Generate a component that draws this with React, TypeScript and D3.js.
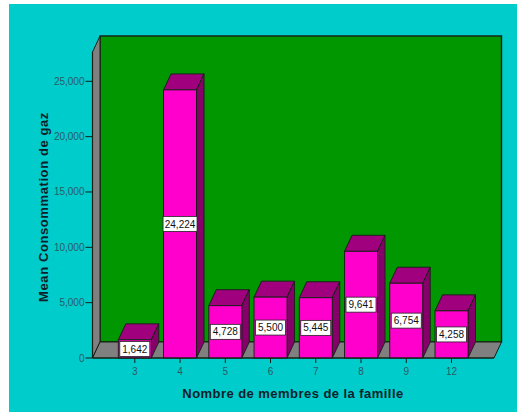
import React from "react";
import * as d3 from "d3";

const categories = ["3", "4", "5", "6", "7", "8", "9", "12"];
const values = [1642, 24224, 4728, 5500, 5445, 9641, 6754, 4258];
const valueLabels = ["1,642", "24,224", "4,728", "5,500", "5,445", "9,641", "6,754", "4,258"];
const yTicks = [0, 5000, 10000, 15000, 20000, 25000];
const yTickLabels = ["0", "5,000", "10,000", "15,000", "20,000", "25,000"];
const xTitle = "Nombre de membres de la famille";
const yTitle = "Mean Consommation de gaz";

const W = 517;
const H = 412;
const DX = 7.5;
const DY = -16;
const left = 92.5;
const right = 494;
const bottom = 358;
const yMaxWall = 27650;
const barW = 33;

const BG = "#00cccc";
const GREEN = "#009700";
const GRAY = "#808080";
const MAG = "#ff00cc";
const TOP = "#a0007e";
const SIDE = "#86006a";
const LINE = "#142014";

export default function App() {
  const y = d3.scaleLinear().domain([0, 25000]).range([bottom, 81.3]);
  const x = d3.scalePoint<string>().domain(categories).range([134.8, 451.5]);
  const top = y(yMaxWall);
  const pts = (a: number[][]) => a.map((p) => p.join(",")).join(" ");

  return (
    <div style={{ position: "fixed", left: 0, top: 0 }}>
      <svg width={W} height={H} style={{ display: "block" }} fontFamily="'Liberation Sans', Arial, sans-serif">
        <rect x={0} y={0} width={W} height={H} fill="#ffffff" />
        <rect x={9} y={4} width={W - 9} height={H - 4} fill={BG} />
        {/* back wall */}
        <rect x={left + DX} y={top + DY} width={right - left} height={bottom - top} fill={GREEN} stroke={LINE} strokeWidth={1.4} />
        {/* left wall */}
        <polygon
          points={pts([[left, top], [left + DX, top + DY], [left + DX, bottom + DY], [left, bottom]])}
          fill={GRAY}
          stroke={LINE}
          strokeWidth={1}
        />
        {/* floor */}
        <polygon
          points={pts([[left, bottom], [left + DX, bottom + DY], [right + DX, bottom + DY], [right, bottom]])}
          fill={GRAY}
          stroke={LINE}
          strokeWidth={1}
        />
        {/* bars */}
        {categories.map((c, i) => {
          const cx = x(c) as number;
          const x0 = cx - barW / 2;
          const x1 = cx + barW / 2;
          const yt = y(values[i]);
          return (
            <g key={c} stroke={LINE} strokeWidth={0.9}>
              <polygon points={pts([[x0, yt], [x0 + DX, yt + DY], [x1 + DX, yt + DY], [x1, yt]])} fill={TOP} />
              <polygon points={pts([[x1, yt], [x1 + DX, yt + DY], [x1 + DX, bottom + DY], [x1, bottom]])} fill={SIDE} />
              <rect x={x0} y={yt} width={barW} height={bottom - yt} fill={MAG} />
            </g>
          );
        })}
        {/* value labels */}
        {categories.map((c, i) => {
          const cx = x(c) as number;
          const yt = y(values[i]);
          const cy = (yt + bottom) / 2;
          const bw = valueLabels[i].length > 5 ? 34 : 30;
          return (
            <g key={"l" + c}>
              <rect x={cx - bw / 2} y={cy - 7.5} width={bw} height={15} fill="#ffffff" stroke="#222" strokeWidth={0.8} />
              <text x={cx} y={cy + 3.6} textAnchor="middle" fontSize={10} fill="#111">
                {valueLabels[i]}
              </text>
            </g>
          );
        })}
        {/* y axis */}
        <line x1={left} y1={top} x2={left} y2={bottom} stroke={LINE} strokeWidth={1.2} />
        {yTicks.map((t, i) => (
          <g key={"t" + t}>
            <line x1={left - 7} y1={y(t)} x2={left} y2={y(t)} stroke={LINE} strokeWidth={1} />
            <text x={left - 8} y={y(t) + 3.5} textAnchor="end" fontSize={10} fill="#2b5a66">
              {yTickLabels[i]}
            </text>
          </g>
        ))}
        {/* x axis */}
        <line x1={left} y1={bottom} x2={right} y2={bottom} stroke={LINE} strokeWidth={1.2} />
        {categories.map((c) => (
          <g key={"x" + c}>
            <line x1={x(c)} y1={bottom} x2={x(c)} y2={bottom + 5} stroke={LINE} strokeWidth={1} />
            <text x={x(c)} y={bottom + 17} textAnchor="middle" fontSize={10} fill="#2b5a66">
              {c}
            </text>
          </g>
        ))}
        <text x={293} y={398} textAnchor="middle" fontSize={13} fontWeight="bold" letterSpacing={0.45} fill="#0d1f2a">
          {xTitle}
        </text>
        <text
          transform={`translate(48,207) rotate(-90)`}
          textAnchor="middle"
          fontSize={13}
          fontWeight="bold"
          letterSpacing={0.6}
          fill="#0d1f2a"
        >
          {yTitle}
        </text>
      </svg>
    </div>
  );
}
